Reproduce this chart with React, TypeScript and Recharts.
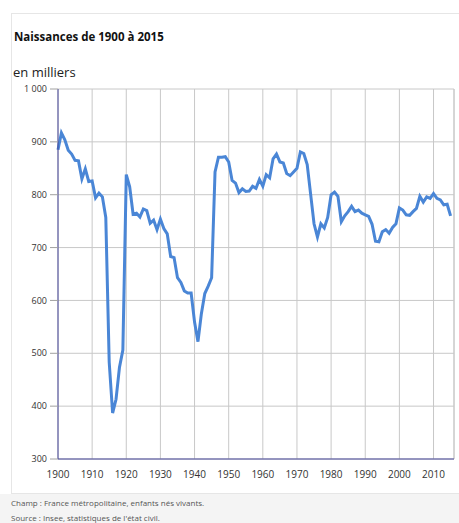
import React from 'react';
import { LineChart, Line, XAxis, YAxis, CartesianGrid, ReferenceLine } from 'recharts';

const years = [
  1900, 1901, 1902, 1903, 1904, 1905, 1906, 1907, 1908, 1909,
  1910, 1911, 1912, 1913, 1914, 1915, 1916, 1917, 1918, 1919,
  1920, 1921, 1922, 1923, 1924, 1925, 1926, 1927, 1928, 1929,
  1930, 1931, 1932, 1933, 1934, 1935, 1936, 1937, 1938, 1939,
  1940, 1941, 1942, 1943, 1944, 1945, 1946, 1947, 1948, 1949,
  1950, 1951, 1952, 1953, 1954, 1955, 1956, 1957, 1958, 1959,
  1960, 1961, 1962, 1963, 1964, 1965, 1966, 1967, 1968, 1969,
  1970, 1971, 1972, 1973, 1974, 1975, 1976, 1977, 1978, 1979,
  1980, 1981, 1982, 1983, 1984, 1985, 1986, 1987, 1988, 1989,
  1990, 1991, 1992, 1993, 1994, 1995, 1996, 1997, 1998, 1999,
  2000, 2001, 2002, 2003, 2004, 2005, 2006, 2007, 2008, 2009,
  2010, 2011, 2012, 2013, 2014, 2015,
];

const births = [
  885, 917, 904, 884, 877, 865, 864, 830, 849, 825,
  826, 794, 803, 796, 757, 483, 387, 413, 473, 506,
  838, 815, 763, 765, 758, 773, 770, 746, 752, 734,
  754, 736, 726, 683, 681, 643, 634, 618, 614, 614,
  559, 522, 575, 613, 627, 643, 843, 871, 871, 872,
  862, 827, 822, 804, 811, 806, 807, 816, 812, 829,
  816, 838, 832, 868, 877, 862, 860, 840, 836, 843,
  850, 881, 878, 857, 801, 745, 720, 745, 737, 757,
  800, 805, 797, 749, 760, 768, 778, 768, 771, 765,
  762, 759, 744, 712, 711, 730, 734, 727, 738, 745,
  775, 771, 762, 761, 768, 774, 797, 786, 796, 793,
  802, 793, 790, 781, 782, 760,
];

const xTicks = [1900, 1910, 1920, 1930, 1940, 1950, 1960, 1970, 1980, 1990, 2000, 2010];
const yTicks = [300, 400, 500, 600, 700, 800, 900, 1000];
const xEnd = 2016;

const data = years.map((year, i) => ({ year, value: births[i] }));

const fmtY = (v: number) => (v >= 1000 ? `${Math.floor(v / 1000)} ${String(v % 1000).padStart(3, '0')}` : String(v));

export default function App() {
  return (
    <div
      style={{
        position: 'absolute',
        left: 0,
        top: 0,
        width: 459,
        height: 523,
        background: '#ffffff',
        overflow: 'hidden',
        fontFamily: '"Open Sans", sans-serif',
      }}
    >
      <div
        style={{
          position: 'absolute',
          left: 11,
          top: 13,
          width: 460,
          height: 481,
          border: '1px solid #e6e6e6',
          boxSizing: 'border-box',
        }}
      />
      <div
        style={{
          position: 'absolute',
          left: 14,
          top: 29,
          fontSize: 11.5,
          fontWeight: 700,
          color: '#111',
          whiteSpace: 'nowrap',
        }}
      >
        Naissances de 1900 à 2015
      </div>
      <div
        style={{
          position: 'absolute',
          left: 13,
          top: 63,
          fontSize: 13,
          color: '#222',
          whiteSpace: 'nowrap',
        }}
      >
        en milliers
      </div>
      <div style={{ position: 'absolute', left: 0, top: 0 }}>
        <LineChart
          width={459}
          height={523}
          data={data}
          margin={{ top: 89, right: 5, bottom: 34, left: 8 }}
        >
          <CartesianGrid stroke="#c8c8c8" strokeWidth={1} />
          <XAxis
            type="number"
            dataKey="year"
            domain={[1900, xEnd]}
            ticks={xTicks}
            height={30}
            interval={0}
            tickLine={false}
            tickSize={4}
            tickMargin={8}
            axisLine={{ stroke: '#46469a' }}
            tick={{ fontSize: 10, fill: '#333', fontFamily: '"Open Sans", sans-serif' }}
          />
          <YAxis
            type="number"
            domain={[300, 1000]}
            ticks={yTicks}
            width={50}
            interval={0}
            tickSize={8}
            tickMargin={3}
            tickFormatter={fmtY}
            tickLine={{ stroke: '#a0a0a0' }}
            axisLine={{ stroke: '#46469a' }}
            tick={{ fontSize: 9, fill: '#333', fontFamily: '"Open Sans", sans-serif' }}
          />
          <ReferenceLine x={xEnd} stroke="#c8c8c8" />
          <Line
            type="linear"
            dataKey="value"
            stroke="#4a86d6"
            strokeWidth={3}
            dot={false}
            isAnimationActive={false}
          />
        </LineChart>
      </div>
      <div
        style={{
          position: 'absolute',
          left: 0,
          top: 494,
          width: 459,
          height: 29,
          background: '#f4f4f4',
        }}
      />
      <div
        style={{
          position: 'absolute',
          left: 11,
          top: 495,
          fontSize: 8,
          color: '#555',
          whiteSpace: 'nowrap',
          lineHeight: '15px',
        }}
      >
        <div>Champ : France métropolitaine, enfants nés vivants.</div>
        <div>Source : Insee, statistiques de l'état civil.</div>
      </div>
    </div>
  );
}
